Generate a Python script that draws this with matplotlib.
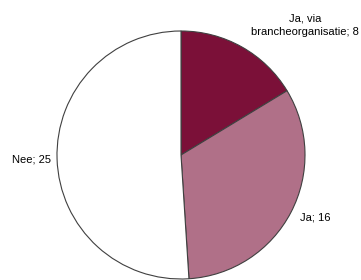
import matplotlib.pyplot as plt

labels = ['Ja, via\nbrancheorganisatie; 8', 'Ja; 16', 'Nee; 25']
values = [8, 16, 25]
colors = ['#7b1038', '#b07088', '#ffffff']

plt.rcParams['font.family'] = ['Liberation Sans', 'DejaVu Sans']

fig = plt.figure(figsize=(3.61, 2.80), dpi=100)
ax = fig.add_axes([57 / 361, 1 / 280, 248 / 361, 248 / 280])

ax.pie(values, colors=colors, startangle=90, counterclock=False,
       wedgeprops={'edgecolor': '#404040', 'linewidth': 0.8})
ax.set_xlim(-1, 1)
ax.set_ylim(-1, 1)
ax.set_aspect('equal')

# label spots, in figure pixels from top-left
spots = [(305, 25), (315, 217), (32, 159)]
for lab, (x, y) in zip(labels, spots):
    fig.text(x / 361, 1 - y / 280, lab, ha='center', va='center',
             fontsize=8, color='#000000', linespacing=1.45)

fig.savefig('out.png', dpi=100)
